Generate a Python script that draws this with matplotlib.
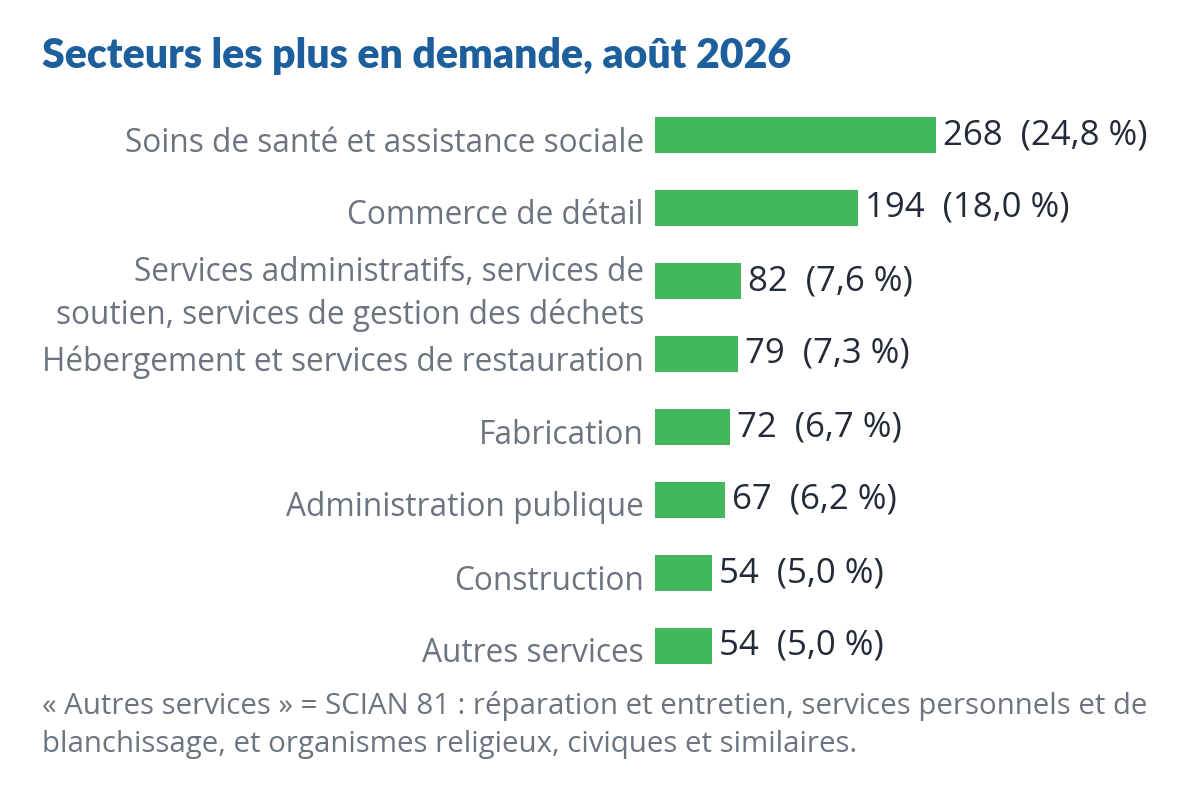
import matplotlib
matplotlib.use("Agg")
import matplotlib.pyplot as plt
import matplotlib.transforms as mtransforms

categories = [
    "Soins de santé et assistance sociale",
    "Commerce de détail",
    "Services administratifs, services de\nsoutien, services de gestion des déchets",
    "Hébergement et services de restauration",
    "Fabrication",
    "Administration publique",
    "Construction",
    "Autres services",
]
values = [268, 194, 82, 79, 72, 67, 54, 54]
shares = ["24,8 %", "18,0 %", "7,6 %", "7,3 %", "6,7 %", "6,2 %", "5,0 %", "5,0 %"]
title = "Secteurs les plus en demande, août 2026"
footnote = ("« Autres services » = SCIAN 81 : réparation et entretien, services personnels et de\n"
            "blanchissage, et organismes religieux, civiques et similaires.")

W, H = 1180, 800
fig = plt.figure(figsize=(W / 100, H / 100), dpi=100)
fig.patch.set_facecolor("white")

label_color = "#6b7480"
value_color = "#232b3a"
bar_color = "#42b75d"
title_color = "#1d5f9c"

left_px, right_px = 655, 1150
top_px, bottom_px = 98.5, 682.5
ax = fig.add_axes([left_px / W, 1 - bottom_px / H, (right_px - left_px) / W, (bottom_px - top_px) / H])
px_per_unit = 1.048
ax.set_xlim(0, (right_px - left_px) / px_per_unit)
ax.set_ylim(len(values) - 0.5, -0.5)

y = list(range(len(values)))
ax.barh(y, values, height=0.48, color=bar_color)
for yi, v, s in zip(y, values, shares):
    ax.text(v + 7 / px_per_unit, yi, f"{v}  ({s})", va="center", ha="left",
            fontsize=25, color=value_color, family="Open Sans")

ax.set_yticks(y)
ax.set_yticklabels(categories, fontsize=22.8, color=label_color, family="Open Sans",
                   linespacing=1.4)
ax.tick_params(axis="y", length=0, pad=8)
shift = mtransforms.ScaledTranslation(0, -4 / 100, fig.dpi_scale_trans)
for lab in ax.get_yticklabels():
    lab.set_transform(lab.get_transform() + shift)
ax.set_xticks([])
for sp in ax.spines.values():
    sp.set_visible(False)

fig.text(42 / W, 1 - 56 / H, title, fontsize=29.5, fontweight="heavy", color=title_color,
         family="Lato", va="center", ha="left")
fig.text(42 / W, 1 - 725 / H, footnote, fontsize=21.2, color=label_color, family="Open Sans",
         va="center", ha="left", linespacing=1.4)

fig.savefig("out.png", dpi=100, facecolor="white")
